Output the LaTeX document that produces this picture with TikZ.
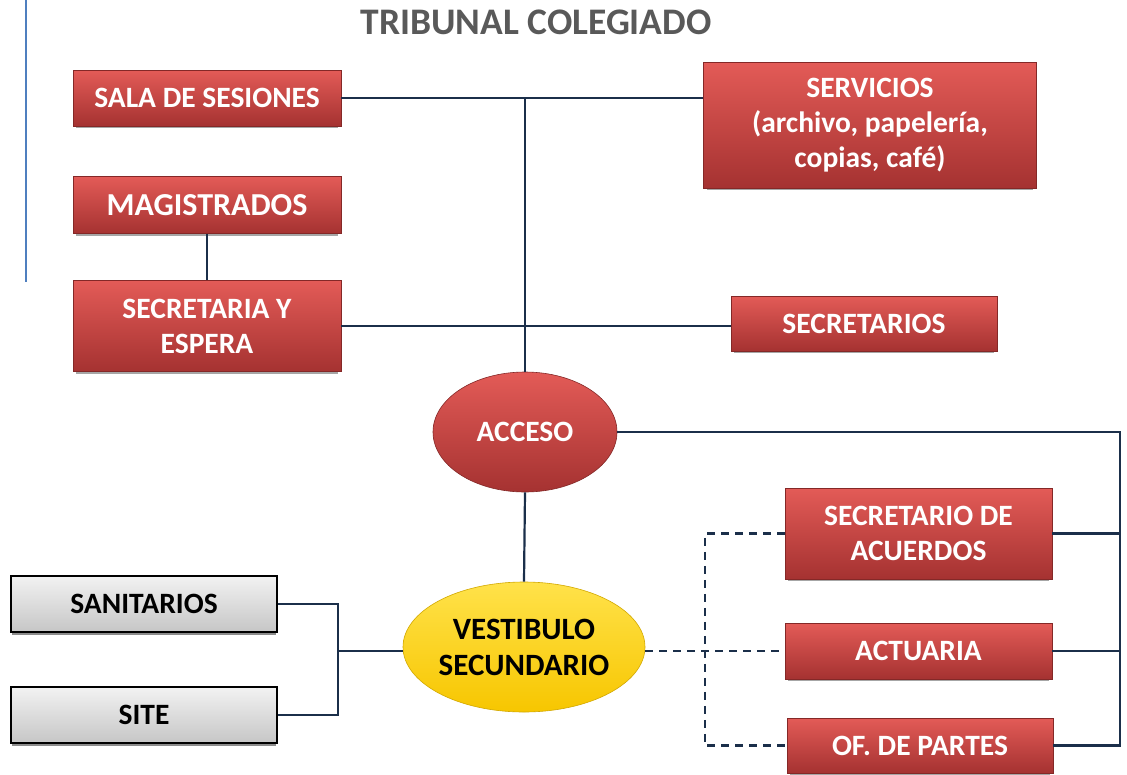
\documentclass[tikz,border=0pt]{standalone}
\usepackage{fontspec}
\setmainfont{Carlito}
\usetikzlibrary{shapes.geometric, shadows}
\definecolor{boxtop}{HTML}{E35B57}
\definecolor{boxmid}{HTML}{CF4240}
\definecolor{boxbot}{HTML}{A53231}
\definecolor{linecol}{HTML}{1B2F4A}
\definecolor{graytop}{HTML}{F2F2F2}
\definecolor{graybot}{HTML}{C6C6C6}
\definecolor{yeltop}{HTML}{FFE24A}
\definecolor{yelbot}{HTML}{F7C600}
\definecolor{titlecol}{HTML}{595959}
\definecolor{bluerule}{HTML}{4F7FBF}
\tikzset{
  redbox/.style={rectangle, top color=boxtop, middle color=boxmid, bottom color=boxbot,
    draw=boxbot!80!black, line width=0.6pt, text=white, align=center,
    font=\fontsize{29.5}{35}\selectfont\bfseries, inner sep=0pt,
    general shadow={shadow yshift=-3pt, shadow scale=0.98, fill=black!35}},
  graybox/.style={rectangle, top color=graytop, bottom color=graybot,
    draw=black, line width=1.4pt, text=black, align=center,
    font=\fontsize{29.5}{35}\selectfont\bfseries, inner sep=0pt,
    general shadow={shadow yshift=-3pt, shadow scale=0.99, fill=black!45}},
  redoval/.style={ellipse, top color=boxtop, middle color=boxmid, bottom color=boxbot,
    draw=boxbot!80!black, line width=0.6pt, text=white, align=center,
    font=\fontsize{29.5}{35}\selectfont\bfseries, inner sep=0pt},
  yeloval/.style={ellipse, top color=yeltop, bottom color=yelbot,
    draw=yelbot!85!black, line width=0.6pt, text=black, align=center,
    font=\fontsize{31}{36}\selectfont\bfseries, inner sep=0pt},
  link/.style={draw=linecol, line width=2.2pt},
  dashlink/.style={link, dash pattern=on 8pt off 6pt}
}

\begin{document}
\begin{tikzpicture}[x=1pt, y=-1pt]
    \useasboundingbox (0,0) rectangle (1127,774);
    \fill[white] (0,0) rectangle (1127,774);

    % Margin rule
    \draw[bluerule, line width=1.6pt] (26,0) -- (26,282);

    % Title
    \node[text=titlecol, font=\fontsize{37.5}{42}\selectfont\bfseries] (titulo) at (536,22) {TRIBUNAL COLEGIADO};

    % Upper rooms
    \node[redbox, minimum width=268pt, minimum height=56pt] (sala) at (207,98) {SALA DE SESIONES};
    \node[redbox, minimum width=268pt, minimum height=57pt, font=\fontsize{32}{35}\selectfont\bfseries] (magis) at (207,205) {MAGISTRADOS};
    \node[redbox, minimum width=268pt, minimum height=91pt] (secesp) at (207,326) {SECRETARIA Y\\ESPERA};
    \node[redbox, minimum width=333pt, minimum height=126pt] (serv) at (870,125) {SERVICIOS\\(archivo, papelería,\\copias, café)};
    \node[redbox, minimum width=266pt, minimum height=55pt] (secrios) at (864,323.5) {SECRETARIOS};

    % Access and lobby
    \node[redoval, minimum width=184pt, minimum height=120pt] (acceso) at (525,432) {ACCESO};
    \node[yeloval, minimum width=242pt, minimum height=130pt] (vest) at (524,647) {VESTIBULO\\SECUNDARIO};

    % Lower right offices
    \node[redbox, minimum width=267pt, minimum height=91pt] (secacu) at (918.5,533.5) {SECRETARIO DE\\ACUERDOS};
    \node[redbox, minimum width=267pt, minimum height=56pt] (actu) at (918.5,651) {ACTUARIA};
    \node[redbox, minimum width=266pt, minimum height=55pt] (ofp) at (920,745.5) {OF. DE PARTES};

    % Lower left services
    \node[graybox, minimum width=266pt, minimum height=56pt] (sanit) at (144,604) {SANITARIOS};
    \node[graybox, minimum width=266pt, minimum height=56pt] (site) at (144,715) {SITE};

    % Bus points
    \coordinate (busr) at (1120,433);
    \coordinate (busd) at (705,535);
    \coordinate (busl) at (338,651);

    % Connectors
    \draw[link] (sala.east) -- (sala.east -| serv.west);
    \draw[link] (acceso.north) -- (acceso.north |- sala.east);
    \draw[link] (magis.south) -- (secesp.north);
    \draw[link] (secesp.east) -- (secesp.east -| secrios.west);
    \draw[link] (acceso.south) -- (vest.north);

    \draw[link] (acceso.east) -- (acceso.east -| busr) -- (busr |- ofp.east) -- (ofp.east);
    \draw[link] (secacu.east) -- (secacu.east -| busr);
    \draw[link] (actu.east) -- (actu.east -| busr);

    \draw[dashlink] (vest.east |- actu.west) -- (actu.west);
    \draw[dashlink] (secacu.west) -- (secacu.west -| busd) -- (busd |- ofp.west) -- (ofp.west);

    \draw[link] (sanit.east) -- (sanit.east -| busl) -- (busl |- site.east) -- (site.east);
    \draw[link] (busl) -- (vest.west |- busl);
\end{tikzpicture}
\end{document}
